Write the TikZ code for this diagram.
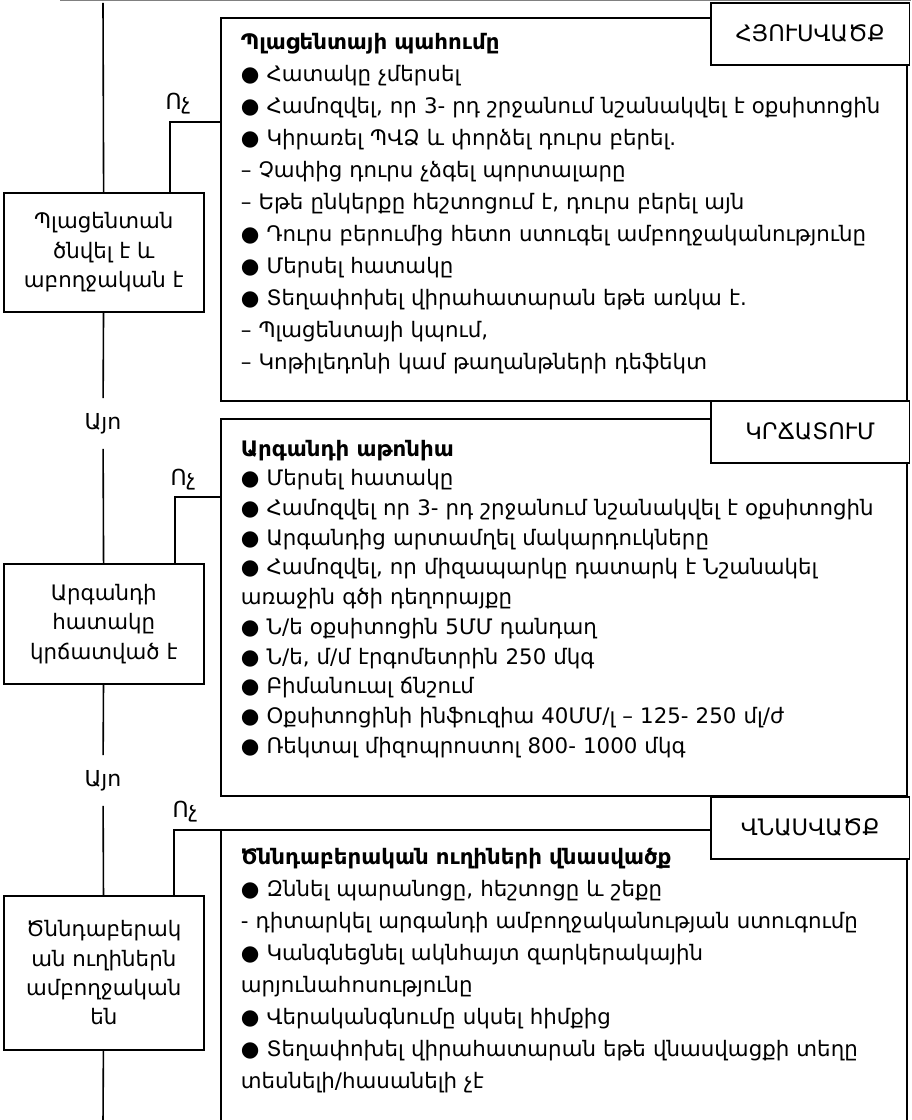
\documentclass[tikz,border=0pt]{standalone}
\usepackage{fontspec}
\setmainfont{DejaVu Sans}

\begin{document}
\begin{tikzpicture}[x=0.75pt,y=-0.75pt,line width=1.2pt,
    decision/.style={draw,anchor=north west,minimum width=150pt,align=center,
        inner sep=0pt,font=\fontsize{16}{22}\selectfont},
    frame/.style={draw,anchor=north west,minimum width=514.5pt,inner sep=0pt},
    body/.style={anchor=north west,inner sep=0pt,align=left,text width=495pt},
    tag/.style={draw,fill=white,anchor=north west,minimum width=149pt,
        minimum height=46.5pt,inner sep=0pt,font=\fontsize{17}{20}\selectfont},
    yes/.style={inner sep=0pt,minimum height=36.75pt,font=\fontsize{16.5}{20}\selectfont},
    no/.style={inner sep=0pt,font=\fontsize{16.5}{20}\selectfont}]
    \useasboundingbox (0,0) rectangle (911,1120);
    \draw[gray,line width=1pt] (60,0.7) -- (911,0.7);

    \node[frame,minimum height=287.25pt] (frame1) at (220,17) {};
    \node[frame,minimum height=282.75pt] (frame2) at (220,418) {};
    \node[frame,minimum height=240pt] (frame3) at (220,829) {};

    \node[body,font=\fontsize{16}{24}\selectfont] (text1) at (240,32) {%
        \textbf{Պլացենտայի պահումը}\\
        ● Հատակը չմերսել\\
        ● Համոզվել, որ 3- րդ շրջանում նշանակվել է օքսիտոցին\\
        ● Կիրառել ՊՎՁ և փորձել դուրս բերել.\\
        – Չափից դուրս չձգել պորտալարը\\
        – Եթե ընկերքը հեշտոցում է, դուրս բերել այն\\
        ● Դուրս բերումից հետո ստուգել ամբողջականությունը\\
        ● Մերսել հատակը\\
        ● Տեղափոխել վիրահատարան եթե առկա է.\\
        – Պլացենտայի կպում,\\
        – Կոթիլեդոնի կամ թաղանթների դեֆեկտ};
    \node[body,font=\fontsize{16}{22.3}\selectfont] (text2) at (240,439) {%
        \textbf{Արգանդի աթոնիա}\\
        ● Մերսել հատակը\\
        ● Համոզվել որ 3- րդ շրջանում նշանակվել է օքսիտոցին\\
        ● Արգանդից արտամղել մակարդուկները\\
        ● Համոզվել, որ միզապարկը դատարկ է Նշանակել\\
        առաջին գծի դեղորայքը\\
        ● Ն/ե օքսիտոցին 5ՄՄ դանդաղ\\
        ● Ն/ե, մ/մ էրգոմետրին 250 մկգ\\
        ● Բիմանուալ ճնշում\\
        ● Օքսիտոցինի ինֆուզիա 40ՄՄ/լ – 125- 250 մլ/ժ\\
        ● Ռեկտալ միզոպրոստոլ 800- 1000 մկգ};
    \node[body,font=\fontsize{16}{24}\selectfont] (text3) at (240,847) {%
        \textbf{Ծննդաբերական ուղիների վնասվածք}\\
        ● Զննել պարանոցը, հեշտոցը և շեքը\\
        - դիտարկել արգանդի ամբողջականության ստուգումը\\
        ● Կանգնեցնել ակնհայտ զարկերակային\\
        արյունահոսությունը\\
        ● Վերականգնումը սկսել հիմքից\\
        ● Տեղափոխել վիրահատարան եթե վնասվացքի տեղը\\
        տեսնելի/հասանելի չէ};

    \node[tag] (tag1) at (710,2) {ՀՅՈՒՍՎԱԾՔ};
    \node[tag] (tag2) at (710,400) {ԿՐՃԱՏՈՒՄ};
    \node[tag] (tag3) at (710,796) {ՎՆԱՍՎԱԾՔ};

    \node[decision,minimum height=89.25pt] (dec1) at (3,192) {Պլացենտան\\ ծնվել է և\\ աբողջական է};
    \node[decision,minimum height=90pt] (dec2) at (3,563) {Արգանդի\\ հատակը\\ կրճատված է};
    \node[decision,minimum height=115.5pt] (dec3) at (3,895) {Ծննդաբերակ\\ ան ուղիներն\\ ամբողջական\\ են};

    \coordinate (top) at (103,3);
    \coordinate (bottom) at (103,1125);
    \node[yes] (yes1) at (103,423.5) {Այո};
    \node[yes] (yes2) at (103,780.5) {Այո};
    \draw (top) -- (dec1);
    \draw (dec1) -- (yes1);
    \draw (yes1) -- (dec2);
    \draw (dec2) -- (yes2);
    \draw (yes2) -- (dec3);
    \draw (dec3) -- (bottom);

    \coordinate (bend1) at (170,122);
    \coordinate (bend2) at (175,497);
    \coordinate (bend3) at (174,830);
    \node[no] (no1) at (178,104) {Ոչ};
    \node[no] (no2) at (183,480) {Ոչ};
    \node[no] (no3) at (185,812) {Ոչ};
    \draw (bend1 |- dec1.north) -- (bend1) -- (bend1 -| frame1.west);
    \draw (bend2 |- dec2.north) -- (bend2) -- (bend2 -| frame2.west);
    \draw (bend3 |- dec3.north) -- (bend3) -- (bend3 -| frame3.west);
\end{tikzpicture}
\end{document}
